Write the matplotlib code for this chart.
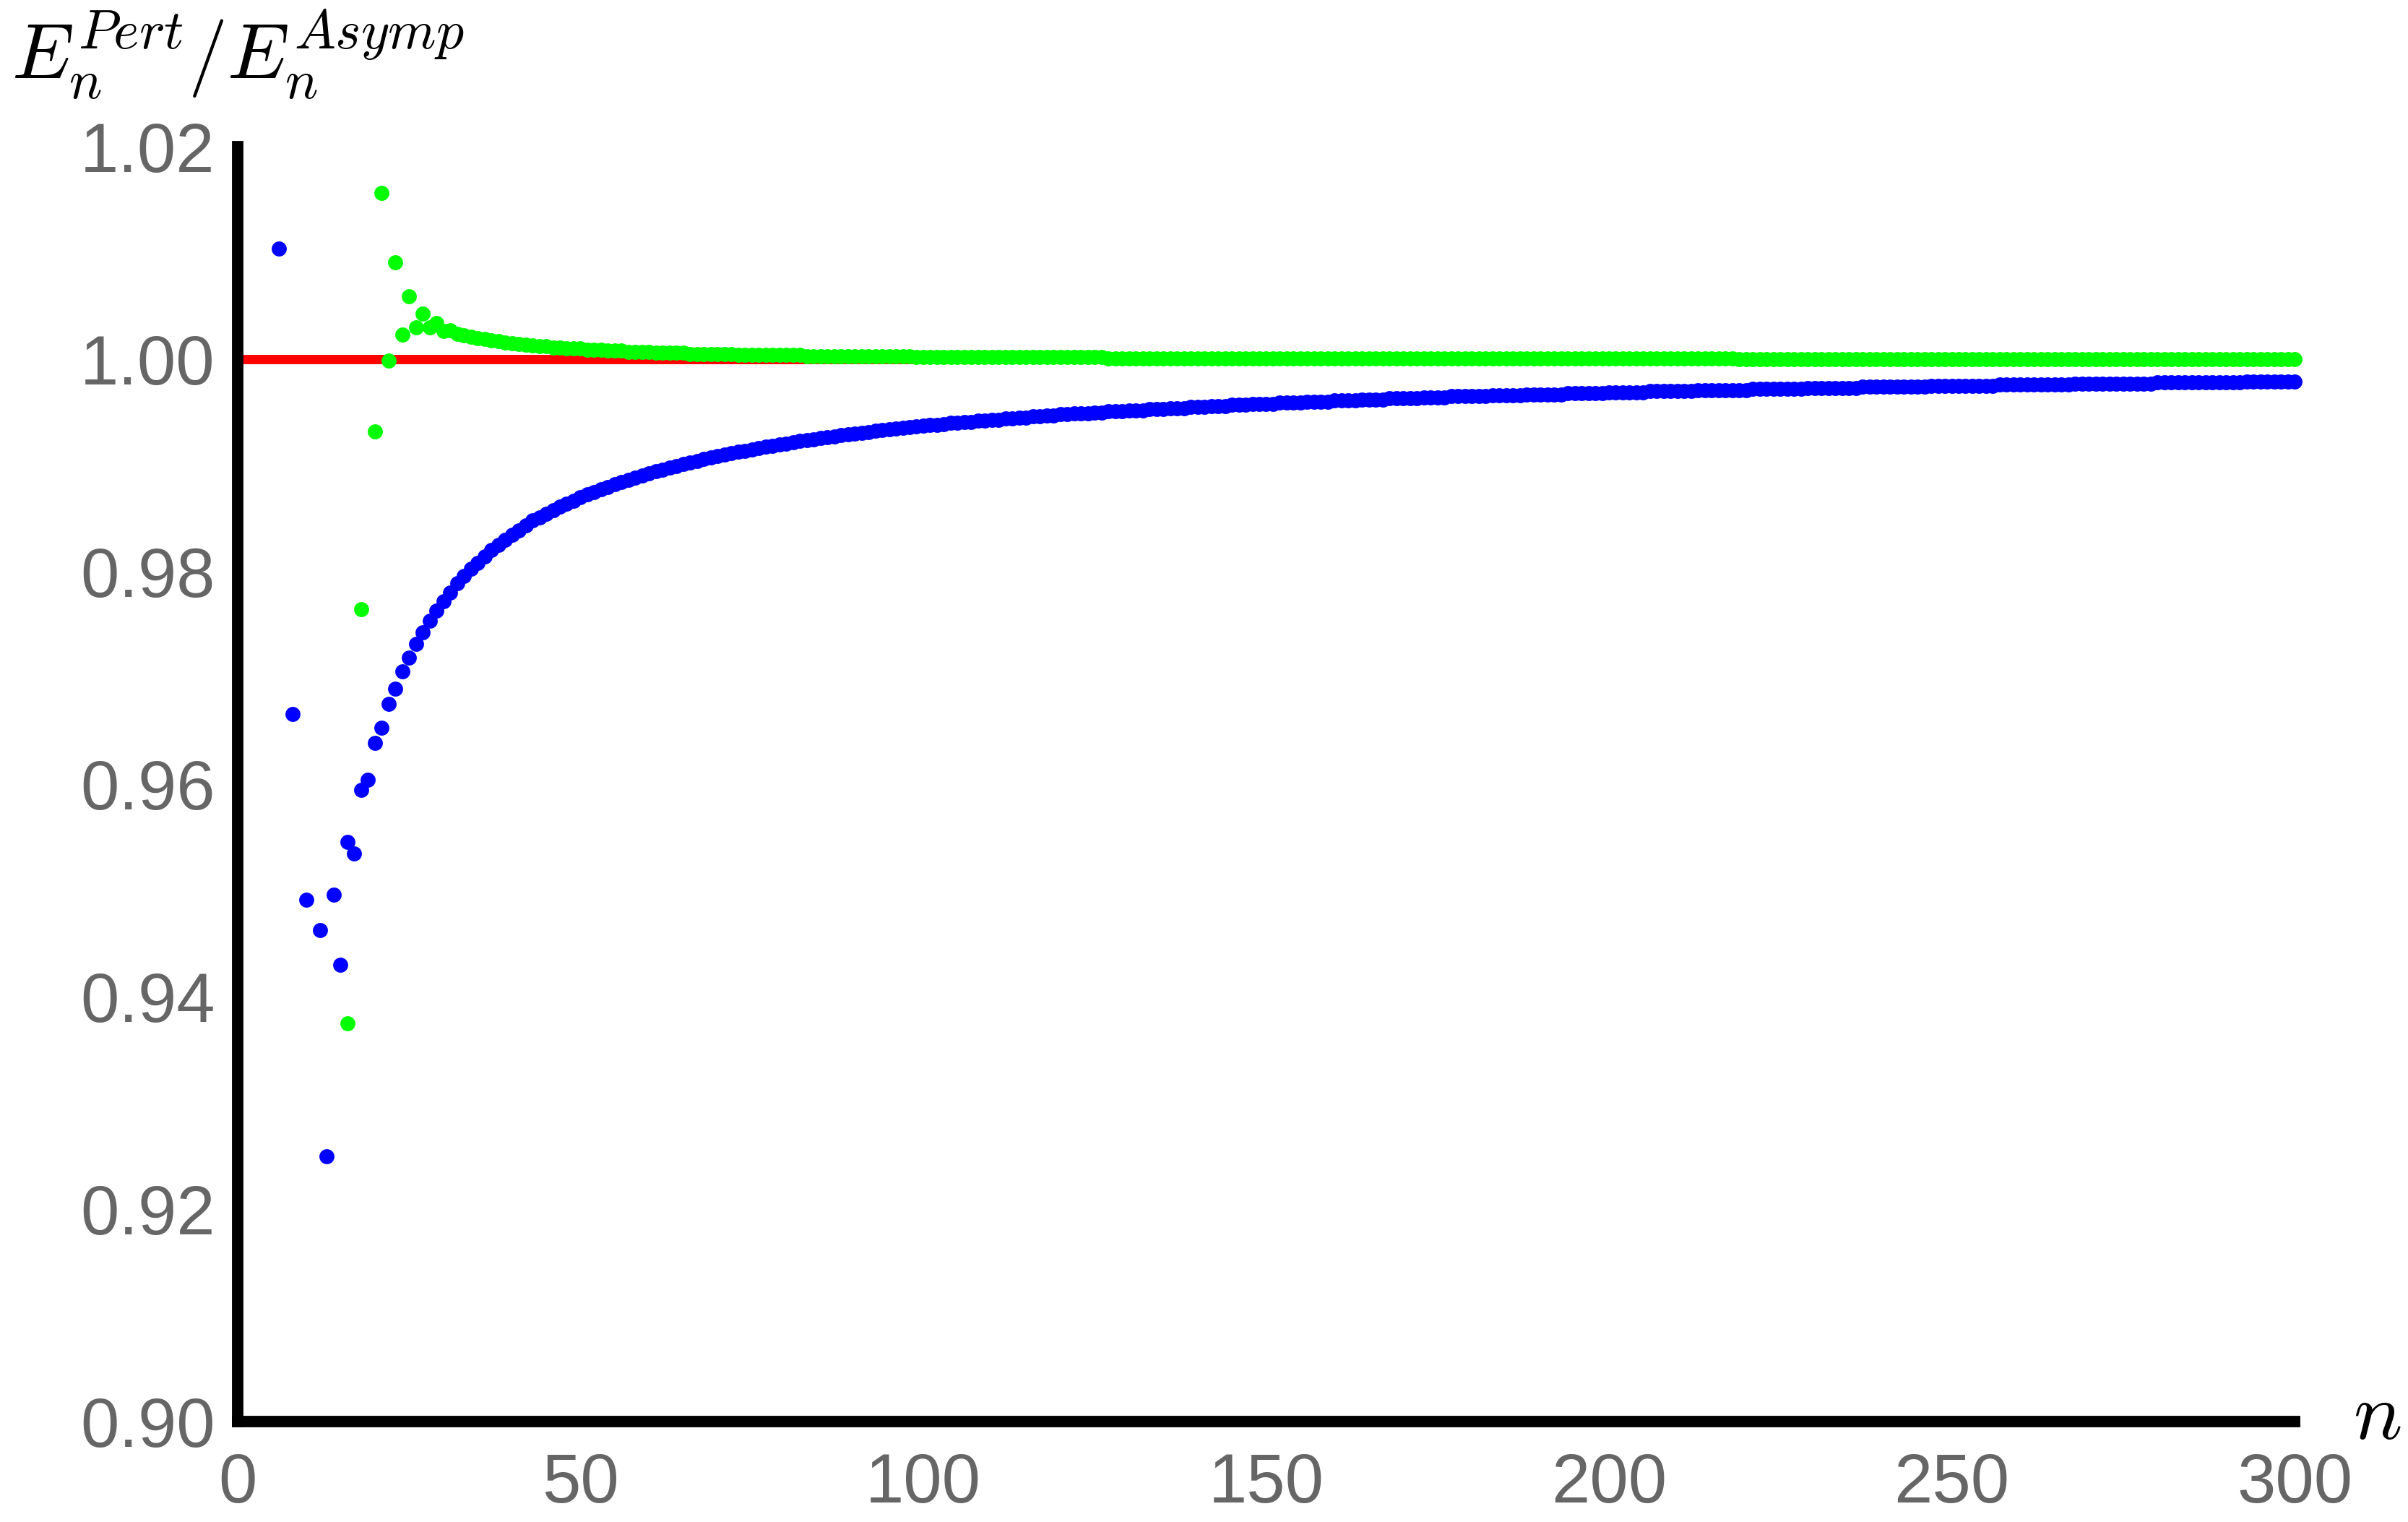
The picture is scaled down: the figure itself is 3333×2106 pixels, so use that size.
# -*- coding: utf-8 -*-
#
#   Ratio of perturbative to asymptotic energies versus level n.
#

import matplotlib
matplotlib.use('Agg')
import matplotlib.pyplot as plt


# x-axis ticks and y-axis ticks
n_ticks = [0, 50, 100, 150, 200, 250, 300]
ratio_ticks = [0.90, 0.92, 0.94, 0.96, 0.98, 1.00, 1.02]
ratio_tick_labels = ['0.90', '0.92', '0.94', '0.96', '0.98', '1.00', '1.02']

# reference line E^Pert / E^Asymp = 1
ref_n = [0, 300]
ref_ratio = [1.0, 1.0]

# blue series (points outside the plot range are not shown)
blue_n = [6, 8, 10] + list(range(12, 301))
blue_ratio = [
    # 6, 8, 10
    1.01040, 0.96660, 0.94915,
    # 12-21
    0.94628, 0.92498, 0.94956, 0.94297, 0.95454, 0.95350, 0.95949, 0.96040, 0.96385, 0.96531,
    # 22-31
    0.96755, 0.96898, 0.97062, 0.97191, 0.97323, 0.97430, 0.97536, 0.97636, 0.97720, 0.97805,
    # 32-41
    0.97890, 0.97958, 0.98027, 0.98084, 0.98145, 0.98202, 0.98254, 0.98299, 0.98345, 0.98390,
    # 42-51
    0.98435, 0.98480, 0.98511, 0.98547, 0.98578, 0.98611, 0.98642, 0.98669, 0.98698, 0.98725,
    # 52-61
    0.98750, 0.98775, 0.98798, 0.98822, 0.98845, 0.98865, 0.98886, 0.98905, 0.98925, 0.98944,
    # 62-71
    0.98961, 0.98979, 0.98995, 0.99012, 0.99027, 0.99043, 0.99059, 0.99072, 0.99087, 0.99100,
    # 72-81
    0.99114, 0.99126, 0.99139, 0.99151, 0.99163, 0.99174, 0.99186, 0.99196, 0.99207, 0.99217,
    # 82-91
    0.99228, 0.99237, 0.99248, 0.99256, 0.99266, 0.99275, 0.99283, 0.99292, 0.99300, 0.99308,
    # 92-101
    0.99316, 0.99324, 0.99331, 0.99338, 0.99346, 0.99353, 0.99359, 0.99366, 0.99372, 0.9938,
    # 102-111
    0.9938, 0.9939, 0.9940, 0.9940, 0.9941, 0.9941, 0.9942, 0.9942, 0.9943, 0.9943,
    # 112-121
    0.9944, 0.9944, 0.9945, 0.9945, 0.9946, 0.9946, 0.9947, 0.9947, 0.9948, 0.9948,
    # 122-131
    0.9949, 0.9949, 0.9949, 0.9950, 0.9950, 0.9951, 0.9951, 0.9951, 0.9952, 0.9952,
    # 132-141
    0.9952, 0.9953, 0.9953, 0.9953, 0.9954, 0.9954, 0.9954, 0.9955, 0.9955, 0.9955,
    # 142-151
    0.9956, 0.9956, 0.9956, 0.9957, 0.9957, 0.9957, 0.9958, 0.9958, 0.9958, 0.9958,
    # 152-161
    0.9959, 0.9959, 0.9959, 0.9959, 0.9960, 0.9960, 0.9960, 0.9960, 0.9961, 0.9961,
    # 162-171
    0.9961, 0.9961, 0.9962, 0.9962, 0.9962, 0.9962, 0.9963, 0.9963, 0.9963, 0.9963,
    # 172-181
    0.9963, 0.9964, 0.9964, 0.9964, 0.9964, 0.9965, 0.9965, 0.9965, 0.9965, 0.9965,
    # 182-191
    0.9965, 0.9966, 0.9966, 0.9966, 0.9966, 0.9966, 0.9967, 0.9967, 0.9967, 0.9967,
    # 192-201
    0.9967, 0.9967, 0.9968, 0.9968, 0.9968, 0.9968, 0.9968, 0.9968, 0.9969, 0.9969,
    # 202-211
    0.9969, 0.9969, 0.9969, 0.9969, 0.9970, 0.9970, 0.9970, 0.9970, 0.9970, 0.9970,
    # 212-221
    0.9970, 0.9971, 0.9971, 0.9971, 0.9971, 0.9971, 0.9971, 0.9971, 0.9971, 0.9972,
    # 222-231
    0.9972, 0.9972, 0.9972, 0.9972, 0.9972, 0.9972, 0.9972, 0.9973, 0.9973, 0.9973,
    # 232-241
    0.9973, 0.9973, 0.9973, 0.9973, 0.9973, 0.9974, 0.9974, 0.9974, 0.9974, 0.9974,
    # 242-251
    0.9974, 0.9974, 0.9974, 0.9974, 0.9974, 0.9975, 0.9975, 0.9975, 0.9975, 0.9975,
    # 252-261
    0.9975, 0.9975, 0.9975, 0.9975, 0.9975, 0.9976, 0.9976, 0.9976, 0.9976, 0.9976,
    # 262-271
    0.9976, 0.9976, 0.9976, 0.9976, 0.9976, 0.9976, 0.9977, 0.9977, 0.9977, 0.9977,
    # 272-281
    0.9977, 0.9977, 0.9977, 0.9977, 0.9977, 0.9977, 0.9977, 0.9977, 0.9978, 0.9978,
    # 282-291
    0.9978, 0.9978, 0.9978, 0.9978, 0.9978, 0.9978, 0.9978, 0.9978, 0.9978, 0.9978,
    # 292-300
    0.9978, 0.9979, 0.9979, 0.9979, 0.9979, 0.9979, 0.9979, 0.9979, 0.9979,
]

# green series
green_n = [16, 18] + list(range(20, 301))
green_ratio = [
    # 16, 18
    0.93745, 0.97645,
    # 20-29
    0.99317, 1.01565, 0.99984, 1.00910, 1.00230, 1.00590, 1.00300, 1.00427, 1.00300, 1.00343,
    # 30-39
    1.00264, 1.00275, 1.00240, 1.00228, 1.00212, 1.00200, 1.00188, 1.00177, 1.00167, 1.00158,
    # 40-49
    1.00150, 1.00143, 1.00136, 1.00130, 1.0012, 1.0012, 1.0011, 1.0011, 1.0010, 1.0010,
    # 50-59
    1.0010, 1.0009, 1.0009, 1.0009, 1.0008, 1.0008, 1.0008, 1.0007, 1.0007, 1.0007,
    # 60-69
    1.0007, 1.0006, 1.0006, 1.0006, 1.0006, 1.0006, 1.0005, 1.0005, 1.0005, 1.0005,
    # 70-79
    1.0005, 1.0005, 1.0005, 1.0004, 1.0004, 1.0004, 1.0004, 1.0004, 1.0004, 1.0004,
    # 80-89
    1.0004, 1.0004, 1.0004, 1.0003, 1.0003, 1.0003, 1.0003, 1.0003, 1.0003, 1.0003,
    # 90-99
    1.0003, 1.0003, 1.0003, 1.0003, 1.0003, 1.0003, 1.0003, 1.0003, 1.0003, 1.0002,
    # 100-109
    1.0002, 1.0002, 1.0002, 1.0002, 1.0002, 1.0002, 1.0002, 1.0002, 1.0002, 1.0002,
    # 110-119
    1.0002, 1.0002, 1.0002, 1.0002, 1.0002, 1.0002, 1.0002, 1.0002, 1.0002, 1.0002,
    # 120-129
    1.0002, 1.0002, 1.0002, 1.0002, 1.0002, 1.0002, 1.0002, 1.0001, 1.0001, 1.0001,
    # 130-139
    1.0001, 1.0001, 1.0001, 1.0001, 1.0001, 1.0001, 1.0001, 1.0001, 1.0001, 1.0001,
    # 140-149
    1.0001, 1.0001, 1.0001, 1.0001, 1.0001, 1.0001, 1.0001, 1.0001, 1.0001, 1.0001,
    # 150-159
    1.0001, 1.0001, 1.0001, 1.0001, 1.0001, 1.0001, 1.0001, 1.0001, 1.0001, 1.0001,
    # 160-169
    1.0001, 1.0001, 1.0001, 1.0001, 1.0001, 1.0001, 1.0001, 1.0001, 1.0001, 1.0001,
    # 170-179
    1.0001, 1.0001, 1.0001, 1.0001, 1.0001, 1.0001, 1.0001, 1.0001, 1.0001, 1.0001,
    # 180-189
    1.0001, 1.0001, 1.0001, 1.0001, 1.0001, 1.0001, 1.0001, 1.0001, 1.0001, 1.0001,
    # 190-199
    1.0001, 1.0001, 1.0001, 1.0001, 1.0001, 1.0001, 1.0001, 1.0001, 1.0001, 1.0001,
    # 200-209
    1.0001, 1.0001, 1.0001, 1.0001, 1.0001, 1.0001, 1.0001, 1.0001, 1.0001, 1.0001,
    # 210-219
    1.0001, 1.0001, 1.0001, 1.0001, 1.0001, 1.0001, 1.0001, 1.0001, 1.0001, 1.0000,
    # 220-229
    1.0000, 1.0000, 1.0000, 1.0000, 1.0000, 1.0000, 1.0000, 1.0000, 1.0000, 1.0000,
    # 230-239
    1.0000, 1.0000, 1.0000, 1.0000, 1.0000, 1.0000, 1.0000, 1.0000, 1.0000, 1.0000,
    # 240-249
    1.0000, 1.0000, 1.0000, 1.0000, 1.0000, 1.0000, 1.0000, 1.0000, 1.0000, 1.0000,
    # 250-259
    1.0000, 1.0000, 1.0000, 1.0000, 1.0000, 1.0000, 1.0000, 1.0000, 1.0000, 1.0000,
    # 260-269
    1.0000, 1.0000, 1.0000, 1.0000, 1.0000, 1.0000, 1.0000, 1.0000, 1.0000, 1.0000,
    # 270-279
    1.0000, 1.0000, 1.0000, 1.0000, 1.0000, 1.0000, 1.0000, 1.0000, 1.0000, 1.0000,
    # 280-289
    1.0000, 1.0000, 1.0000, 1.0000, 1.0000, 1.0000, 1.0000, 1.0000, 1.0000, 1.0000,
    # 290-299
    1.0000, 1.0000, 1.0000, 1.0000, 1.0000, 1.0000, 1.0000, 1.0000, 1.0000, 1.0000,
    # 300
    1.0000,
]


def plot_ratio(prefix):
    plt.rcParams['mathtext.fontset'] = 'cm'
    plt.rcParams['font.family'] = ['Liberation Sans', 'DejaVu Sans']

    fig = plt.figure(figsize=(3333 / 300.0, 2106 / 300.0), dpi=300)
    ax = fig.add_axes([0.0987, 0.0660, 0.8542, 0.8376])

    ax.plot(ref_n, ref_ratio, color='#ff0000', lw=3.1, zorder=2,
            solid_capstyle='butt')
    ax.plot(blue_n, blue_ratio, ls='none', marker='o', ms=5.0, mew=0,
            color='#0000ff', zorder=3, clip_on=False)
    ax.plot(green_n, green_ratio, ls='none', marker='o', ms=5.0, mew=0,
            color='#00ff00', zorder=4, clip_on=False)

    ax.set_xlim(0, 300)
    ax.set_ylim(0.90, 1.02)

    for side in ['top', 'right']:
        ax.spines[side].set_visible(False)
    for side in ['left', 'bottom']:
        ax.spines[side].set_linewidth(3.8)
        ax.spines[side].set_color('black')
        ax.spines[side].set_zorder(5)

    ax.set_xticks(n_ticks)
    ax.set_xticklabels([str(t) for t in n_ticks])
    ax.set_yticks(ratio_ticks)
    ax.set_yticklabels(ratio_tick_labels)
    ax.tick_params(axis='both', length=0, labelsize=23, labelcolor='#666666')
    ax.tick_params(axis='x', pad=10)
    ax.tick_params(axis='y', pad=7.5)

    # axis labels sit at the ends of the axes, Mathematica style
    fig.text(16 / 3333.0, 1 - 10 / 2106.0, r'$E_n^{Pert}/E_n^{Asymp}$',
             ha='left', va='top', fontsize=26)
    fig.text(3290 / 3333.0, 1 - 1962 / 2106.0, r'$n$',
             ha='center', va='center', fontsize=27)

    fig.savefig('{0}.png'.format(prefix), dpi=300)
    plt.close(fig)


def main():
    assert len(blue_n) == len(blue_ratio)
    assert len(green_n) == len(green_ratio)
    plot_ratio('out')


if __name__ == "__main__":
    main()
